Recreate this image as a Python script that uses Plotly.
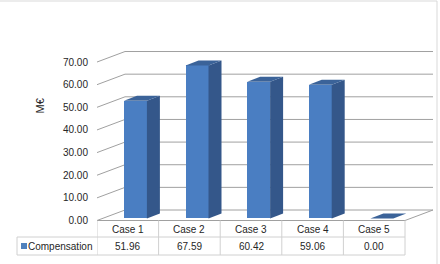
import plotly.graph_objects as go

categories = ["Case 1", "Case 2", "Case 3", "Case 4", "Case 5"]
compensation = [51.96, 67.59, 60.42, 59.06, 0.00]
tick_values = [0, 10, 20, 30, 40, 50, 60, 70]
tick_labels = ["0.00", "10.00", "20.00", "30.00", "40.00", "50.00", "60.00", "70.00"]
series_name = "Compensation"
y_title = "M€"

# geometry (data units)
W, H = 440, 264
ML, MR, MT, MB = 97, 3, 10, 6
PX_X = 61.6          # px per category
Y0_PX = 220.5        # pixel row of value 0 (front plane)
PX_Y = 2.264         # px per value unit
xr = [0, (W - ML - MR) / PX_X]
yr = [-(H - MB - Y0_PX) / PX_Y, (Y0_PX - MT) / PX_Y]

DX, DY = 28 / PX_X, 10.5 / PX_Y         # full wall depth
BX, BY = 13 / PX_X, 5 / PX_Y            # bar depth
BL, BR, BASE = 0.438, 0.81, 0.9         # bar front face

FRONT = "#4A7EC2"
SIDE = "#34578A"
TOP = "#3B6399"
GRID = "#A0A0A0"
CELL = "#D0D0D0"
TXT = "#262626"
FONT = "Liberation Sans"

def px_to_y(py):
    return -(py - Y0_PX) / PX_Y

fig = go.Figure()
n = len(categories)
shapes = []

# walls / gridlines (below traces)
for v in tick_values:
    shapes.append(dict(type="path", xref="x", yref="y", layer="below",
                       path=f"M0,{v} L{DX},{v + DY} L{n + DX},{v + DY}",
                       line=dict(color=GRID, width=1)))
shapes.append(dict(type="path", xref="x", yref="y", layer="below",
                   path=f"M0,0 L{n},0 L{n + DX},{DY}", line=dict(color=GRID, width=1)))

# bars: front faces
fig.add_trace(go.Bar(x=[i + (BL + BR) / 2 for i in range(n)], y=compensation, base=BASE,
                     width=BR - BL, marker=dict(color=FRONT, line=dict(width=0)),
                     name=series_name, showlegend=False))
# side and top faces
for i, v in enumerate(compensation):
    l, r, t = i + BL, i + BR, BASE + v
    fig.add_trace(go.Scatter(x=[r, r + BX, r + BX, r, r], y=[BASE, BASE + BY, t + BY, t, BASE],
                             fill="toself", fillcolor=SIDE, mode="lines", line=dict(width=0, color=SIDE),
                             hoverinfo="skip", showlegend=False))
    fig.add_trace(go.Scatter(x=[l, l + BX, r + BX, r, l], y=[t, t + BY, t + BY, t, t],
                             fill="toself", fillcolor=TOP, mode="lines", line=dict(width=0, color=TOP),
                             hoverinfo="skip", showlegend=False))

# data table
y_hdr_bot = px_to_y(237)
y_val_bot = px_to_y(255)
for i in range(n + 1):
    shapes.append(dict(type="line", xref="x", yref="y", x0=i, x1=i, y0=0, y1=y_val_bot,
                       line=dict(color=CELL, width=1)))
leg_x0 = (17 - ML) / (W - ML - MR)
for yy in (y_hdr_bot, y_val_bot):
    shapes.append(dict(type="line", xref="x", yref="y", x0=0, x1=n, y0=yy, y1=yy,
                       line=dict(color=CELL, width=1)))
    shapes.append(dict(type="line", xref="paper", yref="y", x0=leg_x0, x1=0, y0=yy, y1=yy,
                       line=dict(color=CELL, width=1)))
shapes.append(dict(type="line", xref="paper", yref="y", x0=leg_x0, x1=leg_x0, y0=y_hdr_bot, y1=y_val_bot,
                   line=dict(color=CELL, width=1)))
# legend key square
sq_x0 = (21 - ML) / (W - ML - MR)
sq_x1 = (27 - ML) / (W - ML - MR)
shapes.append(dict(type="rect", xref="paper", yref="y", x0=sq_x0, x1=sq_x1,
                   y0=px_to_y(249), y1=px_to_y(243), fillcolor="#4F81BD", line=dict(width=0)))
# chart border (top, right)
top_y = (H - MB - 1) / (H - MT - MB)
shapes.append(dict(type="line", xref="paper", yref="paper", x0=-ML / (W - ML - MR), x1=1,
                   y0=top_y, y1=top_y, line=dict(color="#D9D9D9", width=1)))
shapes.append(dict(type="line", xref="paper", yref="paper", x0=1, x1=1,
                   y0=-MB / (H - MT - MB), y1=top_y, line=dict(color="#D9D9D9", width=1)))

annotations = []
for i, (c, v) in enumerate(zip(categories, compensation)):
    annotations.append(dict(x=i + 0.5, y=px_to_y(229.5), xref="x", yref="y", text=c, showarrow=False,
                            font=dict(family=FONT, size=10, color=TXT), xanchor="center", yanchor="middle"))
    annotations.append(dict(x=i + 0.5, y=px_to_y(246), xref="x", yref="y", text=f"{v:.2f}", showarrow=False,
                            font=dict(family=FONT, size=10, color=TXT), xanchor="center", yanchor="middle"))
annotations.append(dict(x=(28 - ML) / (W - ML - MR), y=px_to_y(246), xref="paper", yref="y", text=series_name,
                        showarrow=False, font=dict(family=FONT, size=10, color=TXT),
                        xanchor="left", yanchor="middle", xshift=-2))
annotations.append(dict(x=(39.5 - ML) / (W - ML - MR), y=px_to_y(106), xref="paper", yref="y", text=y_title,
                        showarrow=False, textangle=-90, font=dict(family=FONT, size=11, color=TXT),
                        xanchor="center", yanchor="middle"))

fig.update_layout(
    width=W, height=H,
    margin=dict(l=ML, r=MR, t=MT, b=MB),
    paper_bgcolor="white", plot_bgcolor="white",
    showlegend=False,
    shapes=shapes, annotations=annotations,
    xaxis=dict(range=xr, showgrid=False, zeroline=False, showticklabels=False, showline=False,
               fixedrange=True),
    yaxis=dict(range=yr, tickvals=tick_values, ticktext=tick_labels, showgrid=False, zeroline=False,
               showline=False, ticks="", ticklabelstandoff=8,
               tickfont=dict(family=FONT, size=10, color=TXT), fixedrange=True),
    bargap=0,
)

fig.write_html("out.html", config={"displayModeBar": False},
               post_script="document.body.style.margin='0';document.body.style.overflow='hidden';")
